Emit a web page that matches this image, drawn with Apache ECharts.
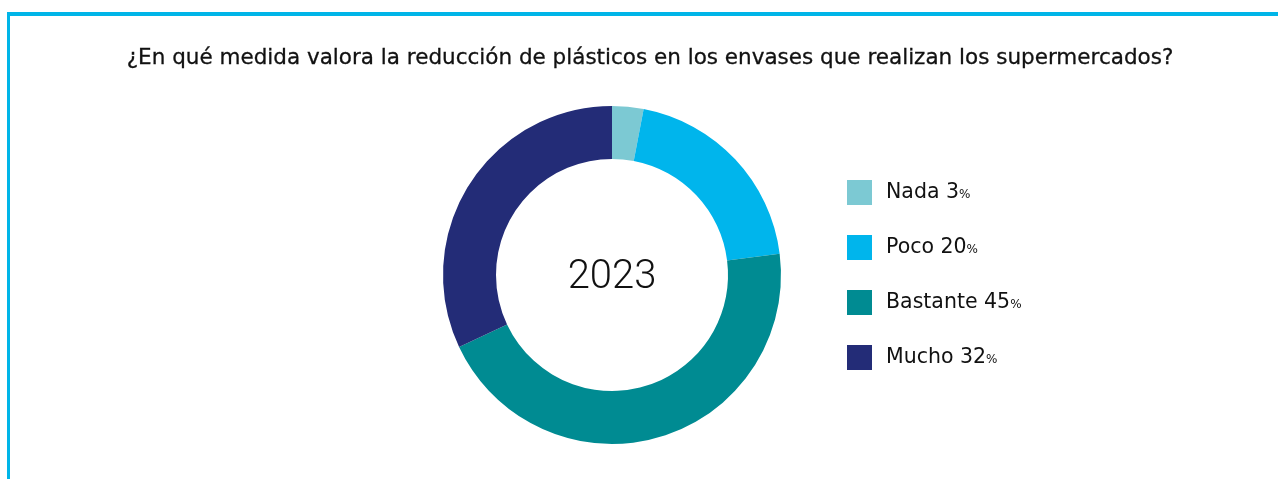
<!DOCTYPE html>
<html><head><meta charset="utf-8">
<script src="https://cdn.jsdelivr.net/npm/echarts@6/dist/echarts.min.js"></script>
<style>html,body{margin:0;padding:0;background:#fff}#c{width:1278px;height:479px}</style>
</head><body><div id="c"></div>
<script>
const categories = ['Nada', 'Poco', 'Bastante', 'Mucho'];
const values = [3, 20, 45, 32];
const colors = ['#7cc9d3', '#00b5ec', '#008b92', '#232c77'];
const titleText = '¿En qué medida valora la reducción de plásticos en los envases que realizan los supermercados?';
const centerText = '2023';

const chart = echarts.init(document.getElementById('c'));
chart.setOption({
  animation: false,
  title: {
    text: titleText,
    left: 650, top: 47, textAlign: 'center', padding: 0,
    textStyle: {fontFamily: 'DejaVu Sans', fontSize: 21.5, fontWeight: 'normal', color: '#111', textBorderColor: '#111', textBorderWidth: 0.3}
  },
  graphic: [
    {type: 'rect', shape: {x: 7, y: 12, width: 1271, height: 4}, style: {fill: '#00b5e8'}},
    {type: 'rect', shape: {x: 7, y: 12, width: 3, height: 467}, style: {fill: '#00b5e8'}},
    {type: 'text', x: 612, y: 278, style: {text: centerText, textAlign: 'center', textVerticalAlign: 'middle', font: '300 40px Roboto', fill: '#111'}}
  ],
  legend: {
    orient: 'vertical', left: 847, top: 180, padding: 0, itemWidth: 25, itemHeight: 25, itemGap: 30,
    icon: 'rect',
    formatter: name => {
      const i = categories.indexOf(name);
      return name + ' ' + values[i] + '{p|%}';
    },
    textStyle: {fontFamily: 'DejaVu Sans', fontSize: 20.5, color: '#111', padding: [0,0,0,9],
      rich: {p: {fontFamily: 'DejaVu Sans', fontSize: 12, color: '#111', padding: [5,0,0,0]}}}
  },
  series: [{
    type: 'pie', center: [612, 275], radius: [116, 169], startAngle: 90, clockwise: true,
    label: {show: false}, labelLine: {show: false}, silent: true,
    data: categories.map((c, i) => ({name: c, value: values[i], itemStyle: {color: colors[i]}}))
  }]
});
</script></body></html>
